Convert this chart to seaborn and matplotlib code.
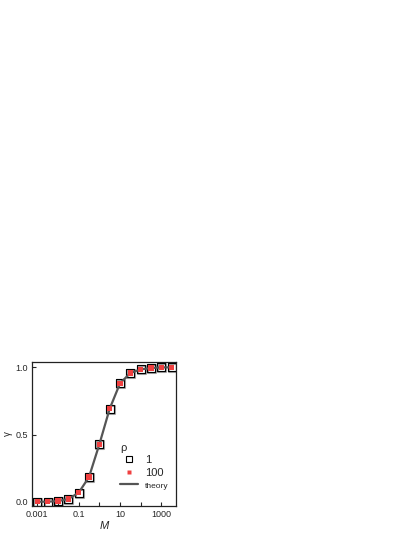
import numpy as np
import pandas as pd
import matplotlib
matplotlib.use("Agg")
import matplotlib.pyplot as plt
import matplotlib.transforms as mtransforms
from matplotlib.lines import Line2D
import seaborn as sns

# datos
M_vals = [0.001, 0.00316, 0.01, 0.0316, 0.1, 0.316, 1.0, 3.16, 10.0, 31.6, 100.0, 316.0, 1000.0, 3160.0]
gamma_rho1 = [0.0, 0.0, 0.005, 0.02, 0.067, 0.184, 0.427, 0.692, 0.881, 0.958, 0.985, 0.995, 1.0, 1.0]
gamma_rho100 = [0.0, 0.0, 0.005, 0.02, 0.067, 0.184, 0.427, 0.692, 0.881, 0.958, 0.985, 0.995, 1.0, 1.0]
gamma_theory = [0.0, 0.0, 0.005, 0.02, 0.067, 0.184, 0.427, 0.692, 0.881, 0.958, 0.985, 0.995, 1.0, 1.0]
XTICKS = [0.001, 0.01, 0.1, 1, 10, 100, 1000]
XLABELS = ["0.001", "", "0.1", "", "10", "", "1000"]

df = pd.DataFrame({"M": M_vals, "r1": gamma_rho1, "r100": gamma_rho100, "th": gamma_theory})

sns.set_style("ticks")
plt.rcParams["font.family"] = ["Liberation Sans", "DejaVu Sans"]

fig = plt.figure(figsize=(4.15, 5.37), dpi=100)
ax = fig.add_axes([32 / 415, 31 / 537, 144 / 415, 144 / 537])

sombra = mtransforms.offset_copy(ax.transData, fig=fig, x=0.7, y=-0.7, units="points")
ax.scatter(df["M"], df["r1"], marker="s", s=34, facecolor="none",
           edgecolor="#a0a0a0", linewidth=1.5, transform=sombra, zorder=2)
sns.scatterplot(data=df, x="M", y="r1", marker="s", s=34, facecolor="none",
                edgecolor="black", linewidth=0.8, ax=ax, zorder=3)
sns.lineplot(data=df, x="M", y="th", color="#555555", linewidth=1.6, ax=ax, zorder=4)
sns.scatterplot(data=df, x="M", y="r100", marker="s", s=14, color="#f04040",
                edgecolor="none", linewidth=0, ax=ax, zorder=5)

ax.set_xscale("log")
ax.set_xlim(10 ** -3.26, 10 ** 3.71)
ax.set_ylim(-0.032, 1.04)
ax.set_xticks(XTICKS)
ax.set_xticklabels(XLABELS)
ax.minorticks_off()
ax.set_yticks([0.0, 0.5, 1.0])
ax.set_yticklabels(["0.0", "0.5", "1.0"])
ax.tick_params(direction="in", length=3, width=0.8, labelsize=6.5, pad=3)
for sp in ax.spines.values():
    sp.set_linewidth(0.9)
    sp.set_color("#222222")

ax.set_xlabel("M", fontsize=8, style="italic", labelpad=1)
ax.set_ylabel("γ", fontsize=7, labelpad=2)

handles = [
    Line2D([], [], marker="s", linestyle="none", markerfacecolor="none",
           markeredgecolor="black", markersize=4.5, markeredgewidth=0.8),
    Line2D([], [], marker="s", linestyle="none", markerfacecolor="#f04040",
           markeredgecolor="none", markersize=3.5),
    Line2D([], [], color="#555555", linewidth=1.6),
]
leg = ax.legend(handles, ["1", "100", "theory"], title="ρ", loc="lower right",
                bbox_to_anchor=(1.0, 0.06), frameon=False, fontsize=8,
                title_fontsize=8, handlelength=1.6, handletextpad=0.6,
                labelspacing=0.2, borderpad=0.2)
leg._legend_box.align = "left"
leg.get_texts()[2].set_fontsize(6)

fig.savefig("out.png", dpi=100)
